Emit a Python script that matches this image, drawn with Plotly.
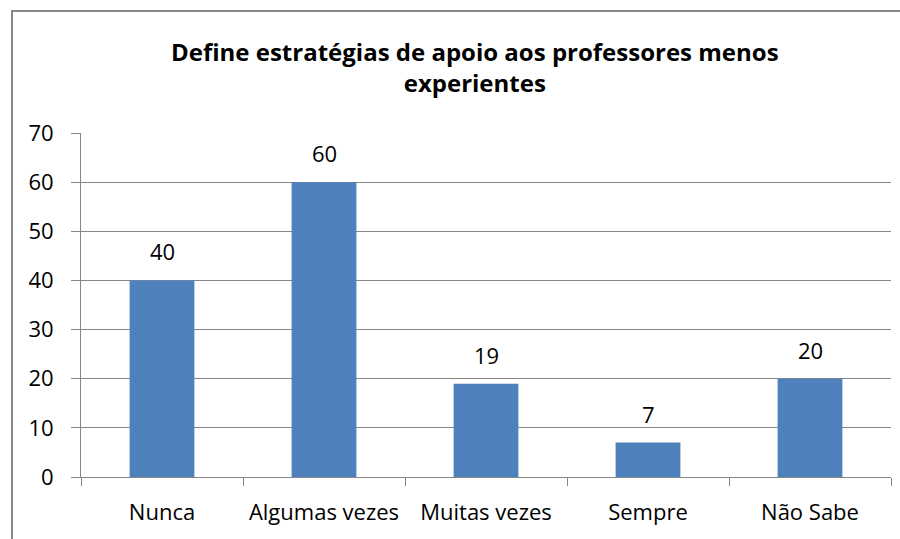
import plotly.graph_objects as go

categories = ["Nunca", "Algumas vezes", "Muitas vezes", "Sempre", "Não Sabe"]
values = [40, 60, 19, 7, 20]
y_ticks = [0, 10, 20, 30, 40, 50, 60, 70]
title_text = "Define estratégias de apoio aos professores menos<br>experientes"

W, H = 900, 539
L, R, T, B = 81, 9, 133, 62
pw, ph = W - L - R, H - T - B

def px_x(p):
    return (p - L) / pw

def px_y(p):
    return (H - B - p) / ph

FONT = "Open Sans"
GRAY = "#878787"
FS = 22

fig = go.Figure(go.Bar(
    x=categories, y=values,
    marker=dict(color="#4F81BD", line=dict(width=0)),
    width=0.4,
))

annotations = [
    dict(x=c, y=v, xref="x", yref="y", text=str(v), showarrow=False,
         yanchor="bottom", yshift=12, font=dict(family=FONT, size=FS, color="#000"))
    for c, v in zip(categories, values)
]
annotations.append(dict(
    x=px_x(475), y=px_y(67), xref="paper", yref="paper", text="<b>" + title_text + "</b>",
    showarrow=False, xanchor="center", yanchor="middle",
    font=dict(family=FONT, size=24, color="#000"),
))

fig.update_layout(
    width=W, height=H,
    margin=dict(l=L, r=R, t=T, b=B, autoexpand=False),
    paper_bgcolor="white", plot_bgcolor="white",
    showlegend=False,
    annotations=annotations,
    shapes=[dict(type="rect", xref="paper", yref="paper",
                 x0=px_x(12), x1=px_x(905), y0=px_y(545), y1=px_y(11),
                 line=dict(color=GRAY, width=2), layer="below")],
    xaxis=dict(
        showgrid=False, showline=True, linecolor=GRAY, linewidth=1,
        ticks="outside", tickson="boundaries", ticklen=8, tickcolor=GRAY, tickwidth=1,
        tickfont=dict(family=FONT, size=FS, color="#000"), tickangle=0, automargin=False,
        ticklabelstandoff=16, fixedrange=True,
    ),
    yaxis=dict(
        range=[0, 70], tickvals=y_ticks, showgrid=True, gridcolor=GRAY, gridwidth=1,
        showline=True, linecolor=GRAY, linewidth=1, zeroline=False,
        ticks="outside", ticklen=9, tickcolor=GRAY, tickwidth=1, automargin=False,
        tickfont=dict(family=FONT, size=FS, color="#000"),
        ticklabelstandoff=13, fixedrange=True,
    ),
)

fig.write_html("out.html", config={"displayModeBar": False},
               post_script="document.body.style.margin='0';document.body.style.overflow='hidden';")
